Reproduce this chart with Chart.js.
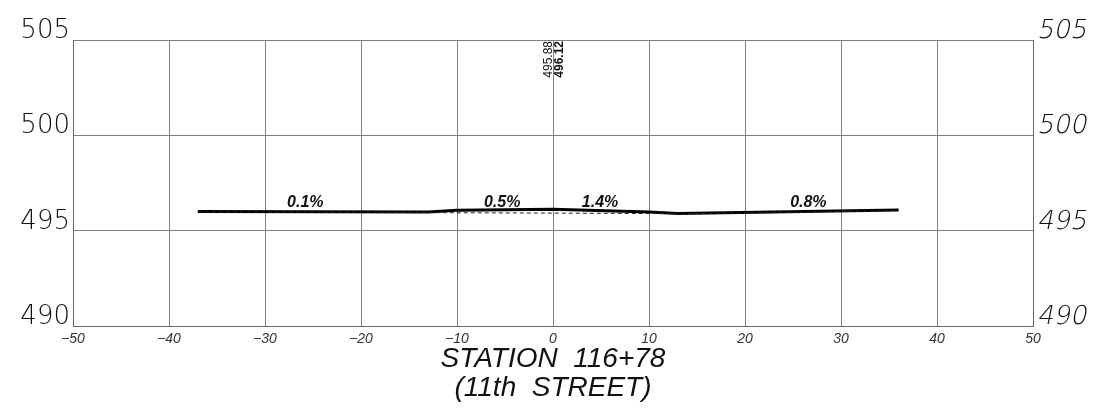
<!DOCTYPE html>
<html>
<head>
<meta charset="utf-8">
<script src="https://cdn.jsdelivr.net/npm/chart.js@4.4.1/dist/chart.umd.min.js"></script>
<style>
    html, body { margin: 0; padding: 0; background: #fff; }
</style>
</head>
<body>
<canvas id="sectionChart" width="1094" height="413"></canvas>
<script>
// Proposed profile (solid, heavy)
const proposedOffset = [-37, -13, -10, 0, 10, 13, 36];
const proposedElev = [496.00, 495.98, 496.07, 496.12, 495.98, 495.90, 496.08];

// Existing ground (thin, dashed)
const existingOffset = [-37, -28, -20, -10, 0, 10, 13, 25, 36];
const existingElev = [495.99, 495.98, 495.96, 495.94, 495.92, 495.90, 495.89, 495.96, 496.06];

// Slope callouts
const slopeText = ['0.1%', '0.5%', '1.4%', '0.8%'];
const slopeOffset = [-25.8, -5.3, 4.9, 26.6];
const slopeElev = [496.24, 496.24, 496.24, 496.22];

// Centerline elevations
const existingCL = '495.88';
const proposedCL = '496.12';

const elevTicks = [490, 495, 500, 505];
const titleLines = ['STATION  116+78', '(11th  STREET)'];

const FONT = '"Liberation Sans", Arial, sans-serif';
const THIN = '"DejaVu Sans", "Liberation Sans", sans-serif';

const toPoints = (xs, ys) => xs.map((x, i) => ({ x: x, y: ys[i] }));

// Draws the elevation labels, slope callouts and the station title
const sectionLabels = {
    id: 'sectionLabels',
    afterDraw(chart) {
        const ctx = chart.ctx;
        const area = chart.chartArea;
        const xs = chart.scales.x;
        const ys = chart.scales.y;
        ctx.save();
        ctx.fillStyle = '#111';

        // elevation labels on both sides, sitting on the grid line
        ctx.textBaseline = 'alphabetic';
        ctx.font = '200 26px ' + THIN;
        elevTicks.forEach(v => {
            const py = ys.getPixelForValue(v) - 2;
            ctx.textAlign = 'right';
            ctx.fillText(String(v), area.left - 3, py);
            // right side is slanted (no light italic face available)
            ctx.save();
            ctx.translate(area.right + 4, py);
            ctx.transform(1, 0, -0.2, 1, 0, 0);
            ctx.textAlign = 'left';
            ctx.fillText(String(v), 0, 0);
            ctx.restore();
        });

        // slope percentages
        ctx.font = 'italic bold 16px ' + FONT;
        ctx.textAlign = 'center';
        slopeText.forEach((t, i) => {
            ctx.fillText(t, xs.getPixelForValue(slopeOffset[i]), ys.getPixelForValue(slopeElev[i]));
        });

        // centerline elevations, rotated
        const cx = xs.getPixelForValue(0);
        ctx.save();
        ctx.translate(cx - 1, area.top + 1);
        ctx.rotate(-Math.PI / 2);
        ctx.textAlign = 'right';
        ctx.textBaseline = 'alphabetic';
        ctx.font = '12px ' + FONT;
        ctx.fillText(existingCL, 0, 0);
        ctx.restore();

        ctx.save();
        ctx.translate(cx + 1, area.top + 1);
        ctx.rotate(-Math.PI / 2);
        ctx.textAlign = 'right';
        ctx.textBaseline = 'top';
        ctx.font = 'bold 12px ' + FONT;
        ctx.fillText(proposedCL, 0, 0);
        ctx.restore();

        // station title under the axis
        ctx.font = 'italic 28px ' + FONT;
        ctx.textAlign = 'center';
        ctx.textBaseline = 'alphabetic';
        ctx.fillText(titleLines[0], cx, area.bottom + 41);
        ctx.fillText(titleLines[1], cx, area.bottom + 70);

        ctx.restore();
    }
};

new Chart(document.getElementById('sectionChart'), {
    type: 'line',
    data: {
        datasets: [
            {
                label: 'Existing',
                data: toPoints(existingOffset, existingElev),
                borderColor: '#222',
                borderWidth: 1,
                borderDash: [4, 3],
                pointRadius: 0,
                tension: 0
            },
            {
                label: 'Proposed',
                data: toPoints(proposedOffset, proposedElev),
                borderColor: '#000',
                borderWidth: 3,
                pointRadius: 0,
                tension: 0
            }
        ]
    },
    options: {
        responsive: false,
        animation: false,
        layout: { padding: { top: 40, left: 0, right: 0, bottom: 0 } },
        plugins: {
            legend: { display: false },
            tooltip: { enabled: false },
            title: { display: false }
        },
        scales: {
            x: {
                type: 'linear',
                min: -50,
                max: 50,
                ticks: {
                    stepSize: 10,
                    padding: 5,
                    color: '#333',
                    font: { family: FONT, size: 14, style: 'italic' },
                    callback: v => (v < 0 ? '\u2212' + Math.abs(v) : String(v))
                },
                grid: { color: '#808080', lineWidth: 1, drawTicks: false },
                border: { color: '#666' },
                afterFit(scale) { scale.height = 87; }
            },
            y: {
                type: 'linear',
                position: 'left',
                min: 490,
                max: 505,
                ticks: { display: false, stepSize: 5 },
                grid: { color: '#808080', lineWidth: 1, drawTicks: false },
                border: { color: '#666' },
                afterFit(scale) { scale.width = 73; }
            },
            y2: {
                type: 'linear',
                position: 'right',
                min: 490,
                max: 505,
                ticks: { display: false },
                grid: { display: false, drawTicks: false },
                border: { color: '#666' },
                afterFit(scale) { scale.width = 61; }
            }
        }
    },
    plugins: [sectionLabels]
});
</script>
</body>
</html>
